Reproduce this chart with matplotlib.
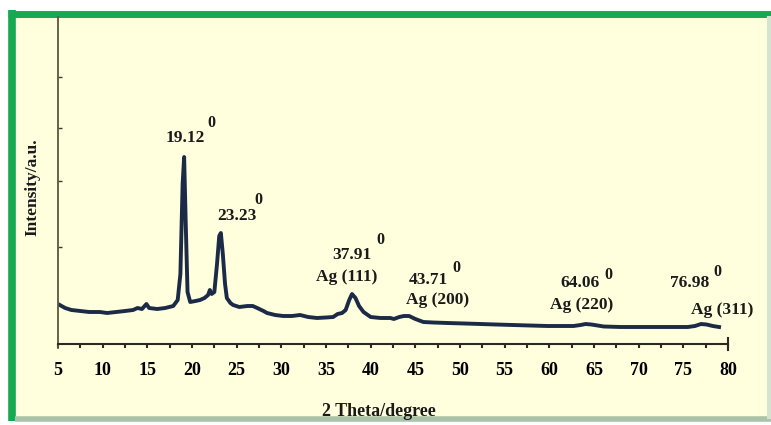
import numpy as np
import matplotlib
matplotlib.use("Agg")
import matplotlib.pyplot as plt
from matplotlib.lines import Line2D
from matplotlib.patches import Rectangle

# XRD pattern (2 theta in degrees, intensity in arbitrary units)
two_theta = [5.2, 5.8, 6.5, 7.5, 8.5, 9.7, 10.5, 11.5, 12.5, 13.4, 13.9, 14.4, 14.9, 15.2,
             16.1, 17.0, 17.9, 18.4, 18.7, 18.95, 19.12, 19.3, 19.5, 19.8, 20.4, 20.9, 21.4,
             21.8, 22.0, 22.2, 22.5, 22.8, 23.05, 23.23, 23.45, 23.7, 23.9, 24.3, 24.6, 25.3,
             26.2, 26.8, 27.3, 28.0, 28.4, 29.3, 30.2, 31.2, 32.1, 33.0, 34.0, 35.0, 35.8,
             36.3, 36.8, 37.2, 37.6, 37.91, 38.3, 38.7, 39.2, 40.0, 41.1, 42.2, 42.6, 43.2,
             43.71, 44.3, 45.0, 45.9, 47.0, 48.6, 50.5, 52.3, 54.0, 55.9, 57.8, 59.8, 62.7,
             63.5, 64.06, 64.7, 66.1, 68.0, 71.0, 73.5, 75.5, 76.3, 76.98, 77.6, 78.3, 79.0]
intensity = [39, 36, 34, 33, 32, 32, 31, 32, 33, 34, 36, 35, 40, 36,
             35, 36, 38, 44, 70, 160, 187, 120, 52, 42, 43, 44, 46,
             49, 54, 50, 52, 80, 108, 111, 90, 60, 46, 41, 39, 37,
             38, 38, 36, 33, 31, 29, 28, 28, 29, 27, 26, 26.5, 27,
             30, 31, 34, 44, 50, 46, 38, 32, 27, 26, 26, 25, 27,
             28, 28, 25, 22, 21.5, 21, 20.5, 20, 19.5, 19, 18.5, 18, 18,
             19, 20, 19.5, 17.5, 17, 17, 17, 17, 18, 20, 19.5, 18, 17]

# peak labels
peak_text = ["19.12", "23.23", "37.91", "43.71", "64.06", "76.98"]
peak_text_x = [19.22, 25.04, 37.91, 46.42, 63.44, 75.75]
peak_text_y = [206, 128, 89, 64, 61, 61]
deg_x = [22.13, 27.39, 41.05, 49.55, 66.57, 78.77]
deg_y = [221, 144, 104, 76, 69, 72]
ag_text = ["Ag (111)", "Ag (200)", "Ag (220)", "Ag (311)"]
ag_x = [37.35, 47.54, 63.66, 79.33]
ag_y = [67, 44, 39, 34]

x_ticks = np.arange(5, 81, 5)
y_ticks = [97, 163, 216, 267]

plt.rcParams['font.family'] = ['Liberation Serif', 'DejaVu Serif']
plt.rcParams['font.weight'] = 'bold'

W, H = 771, 425
fig = plt.figure(figsize=(W / 100, H / 100), dpi=100)
fig.patch.set_facecolor('white')

# yellow panel with green frame
fig.patches.append(Rectangle((12 / W, 1 - 418 / H), (767 - 12) / W, (418 - 13.5) / H,
                             transform=fig.transFigure, facecolor='#FFFFDE',
                             edgecolor='none', zorder=-5))
green = '#17a952'
pale = '#a9c4a8'
fig.lines.append(Line2D([12 / W, 12 / W], [1 - 421 / H, 1 - 10 / H], transform=fig.transFigure,
                        color=green, lw=5.5, solid_capstyle='butt', zorder=-4))
fig.lines.append(Line2D([8 / W, 1.0], [1 - 13.5 / H, 1 - 13.5 / H], transform=fig.transFigure,
                        color=green, lw=5.0, solid_capstyle='butt', zorder=-4))
fig.lines.append(Line2D([15 / W, 1.0], [1 - 419 / H, 1 - 419 / H], transform=fig.transFigure,
                        color=pale, lw=4.0, solid_capstyle='butt', zorder=-4))
fig.lines.append(Line2D([768.5 / W, 768.5 / W], [1 - 419 / H, 1 - 16 / H], transform=fig.transFigure,
                        color='#d4e4cf', lw=3.0, solid_capstyle='butt', zorder=-4))

ax = fig.add_axes([58 / W, 1 - 344 / H, (728 - 58) / W, (344 - 17) / H])
ax.set_facecolor('none')
ax.plot(two_theta, intensity, color='#1b2a47', lw=2.8, solid_joinstyle='round')
ax.set_xlim(5, 80)
ax.set_ylim(0, 327)

for s in ['top', 'right']:
    ax.spines[s].set_visible(False)
ax.spines['left'].set_color('#5b5740')
ax.spines['left'].set_linewidth(1.3)
ax.spines['bottom'].set_color('#2a2a22')
ax.spines['bottom'].set_linewidth(1.5)
ax.spines['left'].set_bounds(-4, 327)

ax.set_xticks(x_ticks)
ax.set_xticks(np.arange(7.5, 80, 5), minor=True)
ax.set_yticks(y_ticks)
ax.set_yticklabels([])
ax.tick_params(axis='x', which='both', direction='out', length=3, width=1.5,
               color='#2a2a22', labelsize=13, pad=10)
ax.tick_params(axis='y', direction='in', length=3, width=1.0, color='#3a3a30')
ax.axvline(80, ymin=-6 / 327, ymax=6 / 327, color='#2a2a22', lw=1.5, clip_on=False)

for t, x, y in zip(peak_text, peak_text_x, peak_text_y):
    ax.text(x, y, t, ha='center', va='center', fontsize=12.5, color='#1a1a1a')
for x, y in zip(deg_x, deg_y):
    ax.text(x, y, "0", ha='center', va='center', fontsize=11.5, color='#1a1a1a')
for t, x, y in zip(ag_text, ag_x, ag_y):
    ax.text(x, y, t, ha='center', va='center', fontsize=12.5, color='#1a1a1a', clip_on=False)

fig.text(379 / W, 1 - 411 / H, "2 Theta/degree", ha='center', va='center', fontsize=13, color='#1a1a1a')
fig.text(32 / W, 1 - 187 / H, "Intensity/a.u.", ha='center', va='center', rotation=90,
         fontsize=12.5, color='#1a1a1a')

fig.savefig('out.png', dpi=100)
